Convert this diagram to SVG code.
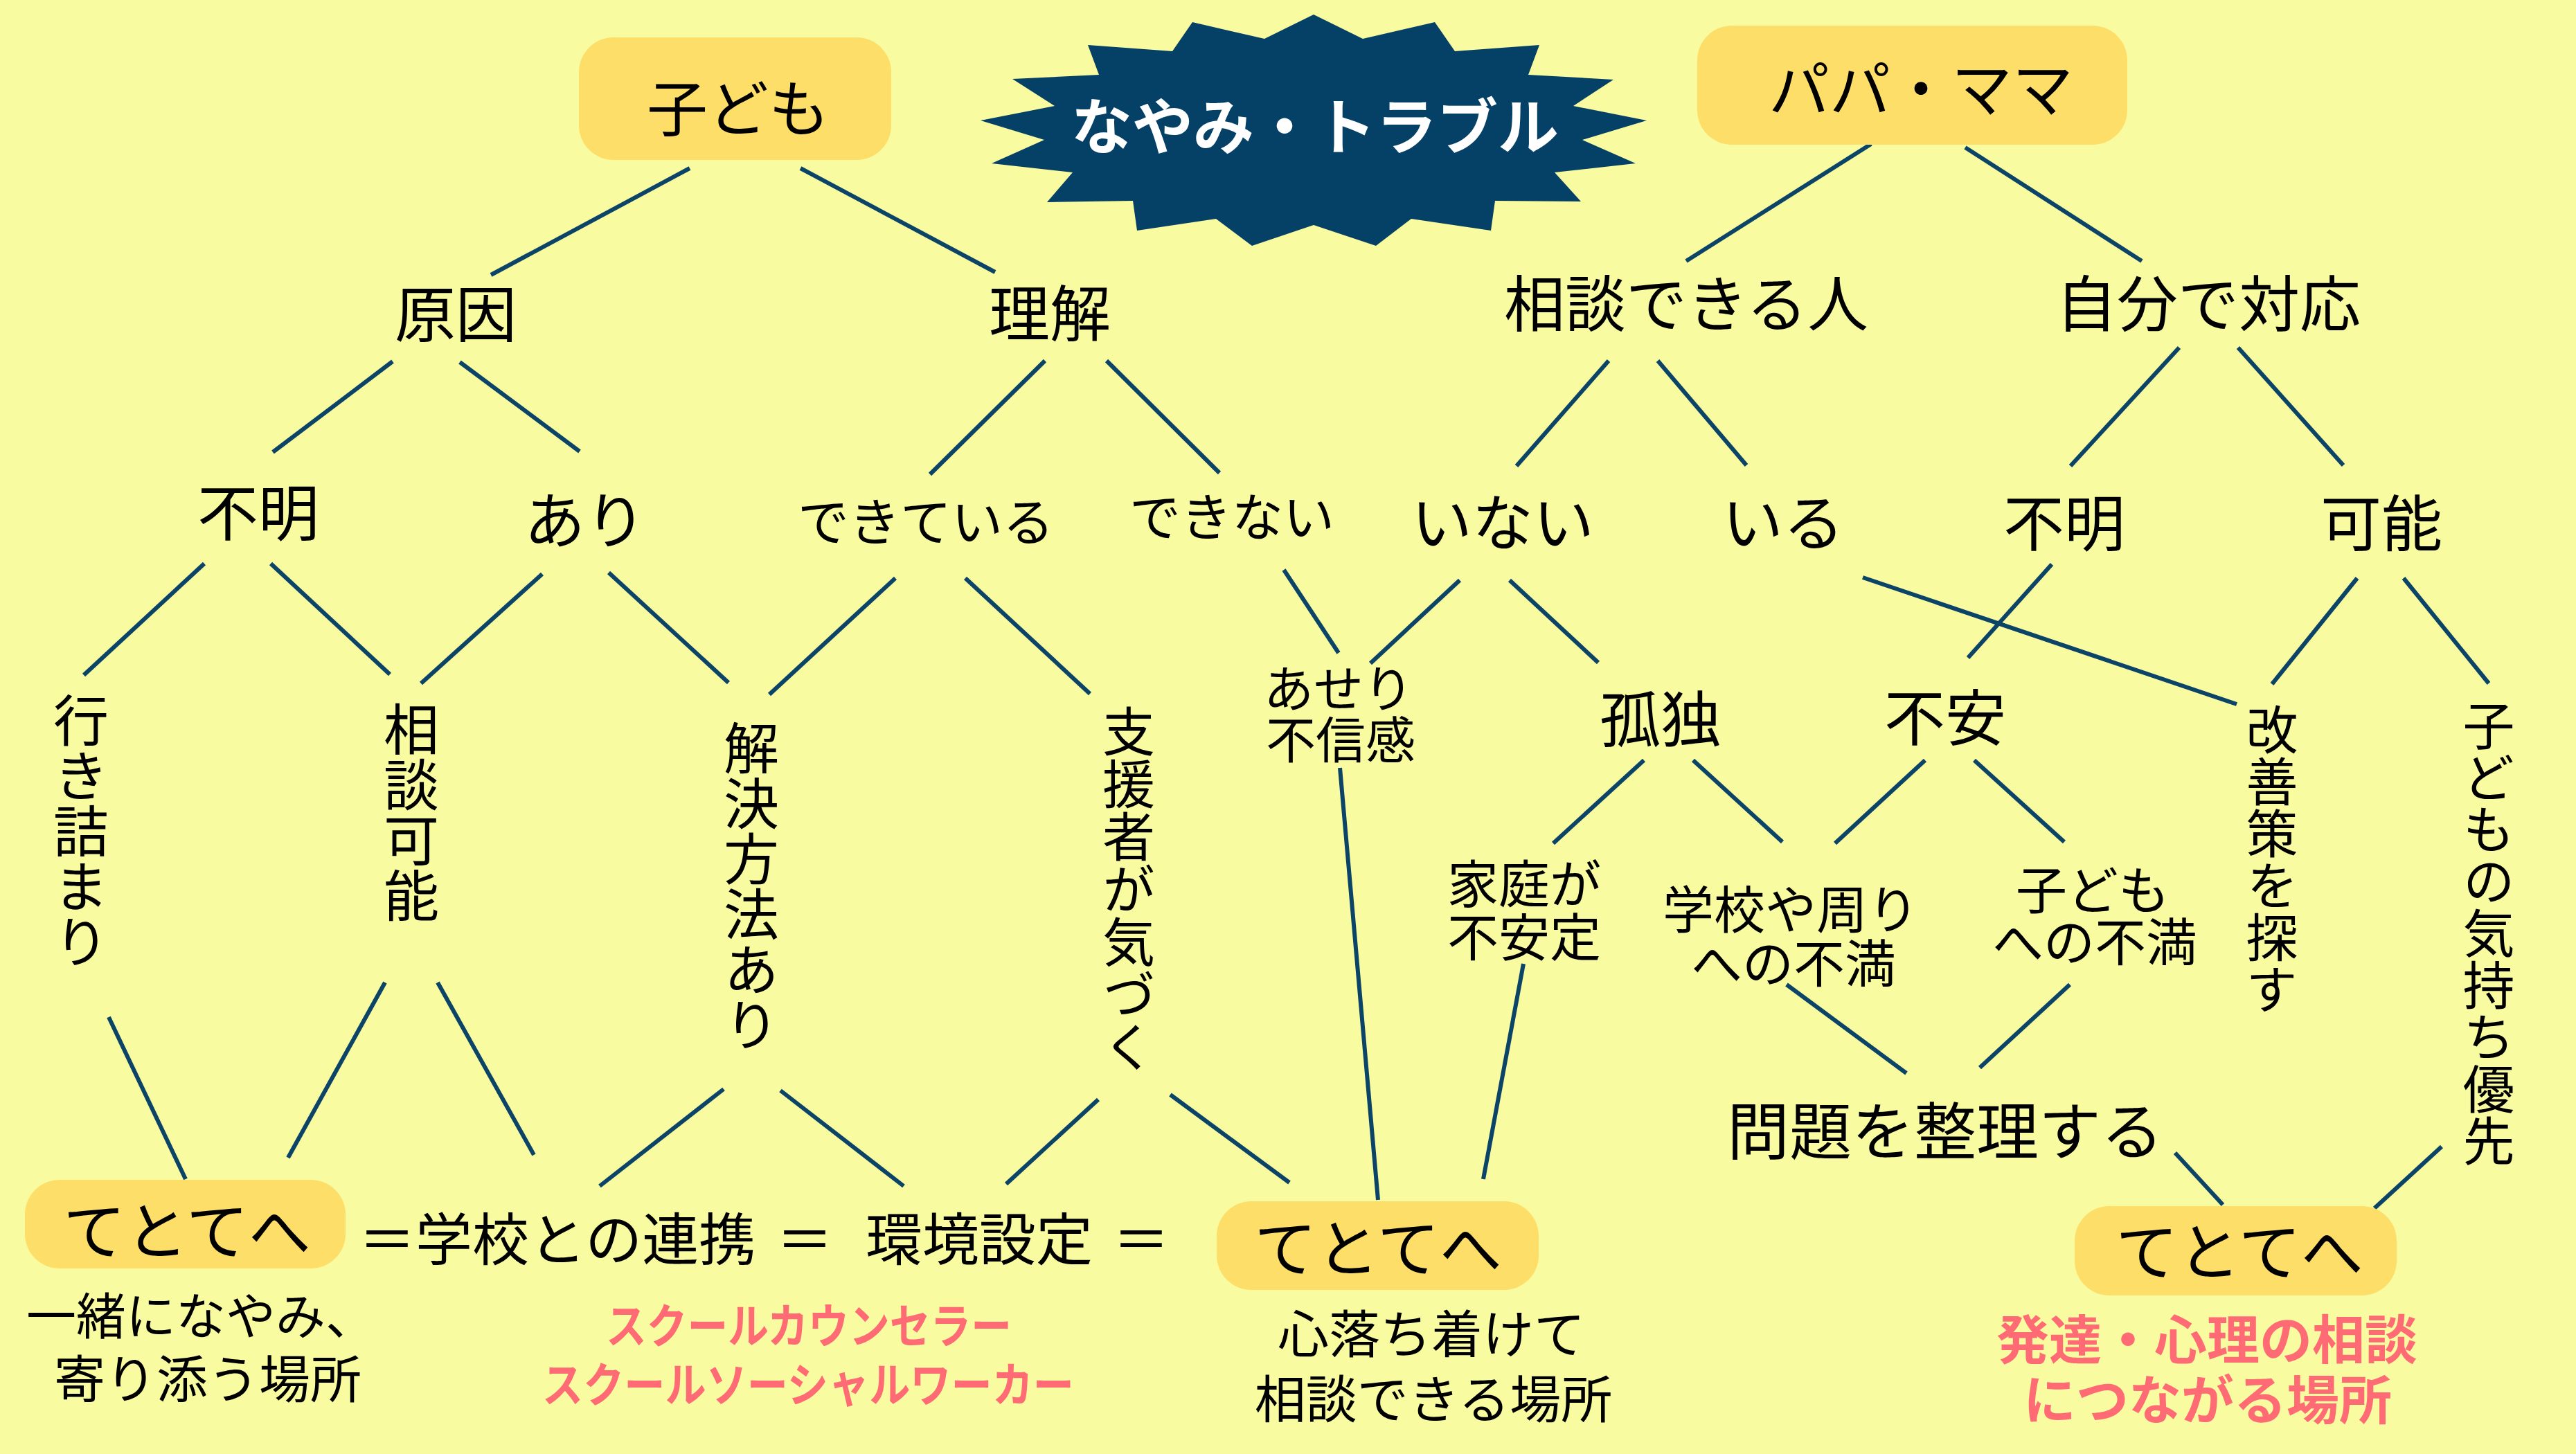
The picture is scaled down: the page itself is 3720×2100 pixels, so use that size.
<svg xmlns="http://www.w3.org/2000/svg" width="3720" height="2100" viewBox="0 0 3720 2100">
<style>
text{font-family:"Noto Sans CJK JP","Noto Sans CJK SC",sans-serif;fill:#000;dominant-baseline:central;text-anchor:middle}
.l{font-size:88px}
.m{font-size:74px}
.v{writing-mode:vertical-rl;text-anchor:start;dominant-baseline:auto}
.pk{fill:#FF6B74;font-weight:700}
.box{fill:#FDDE68}
.conn line{stroke:#0C4468;stroke-width:6;stroke-linecap:butt}
</style>
<rect width="3720" height="2100" fill="#F8FBA0"/>

<g id="connectors" class="conn">
<line x1="996" y1="243" x2="709" y2="397"/>
<line x1="1156" y1="243" x2="1437" y2="393"/>
<line x1="567" y1="522" x2="394" y2="653"/>
<line x1="664" y1="523" x2="837" y2="652"/>
<line x1="1509" y1="521" x2="1343" y2="685"/>
<line x1="1598" y1="521" x2="1761" y2="683"/>
<line x1="295" y1="814" x2="121" y2="975"/>
<line x1="391" y1="814" x2="563" y2="974"/>
<line x1="783" y1="829" x2="608" y2="987"/>
<line x1="879" y1="827" x2="1052" y2="986"/>
<line x1="1293" y1="835" x2="1111" y2="1003"/>
<line x1="1394" y1="835" x2="1574" y2="1002"/>
<line x1="1854" y1="823" x2="1933" y2="943"/>
<line x1="2108" y1="838" x2="1979" y2="958"/>
<line x1="2180" y1="838" x2="2308" y2="957"/>
<line x1="2702" y1="208" x2="2435" y2="377"/>
<line x1="2838" y1="213" x2="3093" y2="377"/>
<line x1="2323" y1="521" x2="2190" y2="673"/>
<line x1="2394" y1="521" x2="2522" y2="672"/>
<line x1="3147" y1="502" x2="2990" y2="673"/>
<line x1="3232" y1="502" x2="3384" y2="672"/>
<line x1="2963" y1="815" x2="2842" y2="950"/>
<line x1="2690" y1="834" x2="3230" y2="1017"/>
<line x1="3404" y1="835" x2="3281" y2="988"/>
<line x1="3471" y1="835" x2="3594" y2="987"/>
<line x1="157" y1="1469" x2="268" y2="1703"/>
<line x1="556" y1="1419" x2="416" y2="1672"/>
<line x1="632" y1="1419" x2="771" y2="1668"/>
<line x1="1045" y1="1573" x2="866" y2="1713"/>
<line x1="1127" y1="1575" x2="1305" y2="1713"/>
<line x1="1586" y1="1588" x2="1453" y2="1710"/>
<line x1="1690" y1="1581" x2="1862" y2="1708"/>
<line x1="1935" y1="1109" x2="1990" y2="1733"/>
<line x1="2200" y1="1392" x2="2142" y2="1703"/>
<line x1="2374" y1="1098" x2="2243" y2="1218"/>
<line x1="2445" y1="1098" x2="2574" y2="1216"/>
<line x1="2780" y1="1098" x2="2650" y2="1218"/>
<line x1="2851" y1="1098" x2="2981" y2="1216"/>
<line x1="2580" y1="1422" x2="2753" y2="1550"/>
<line x1="2989" y1="1422" x2="2859" y2="1542"/>
<line x1="3141" y1="1665" x2="3210" y2="1740"/>
<line x1="3526" y1="1656" x2="3429" y2="1745"/>
</g>

<g id="title">
<polygon fill="#054166" points="1897,21 1968,56 2072,32 2101,74 2223,65 2207,108 2330,115 2272,153 2378,174 2285,202 2362,236 2245,249 2283,291 2159,290 2153,333 2038,316 1987,355 1897,325 1808,355 1756,316 1642,333 1636,290 1512,292 1549,249 1432,236 1508,202 1416,174 1523,153 1462,114 1587,108 1571,65 1693,74 1722,32 1826,56"/>
<text x="1899" y="176" style="font-size:88px;font-weight:700;fill:#fff">なやみ・トラブル</text>
</g>

<g id="n-kodomo"><rect class="box" x="836" y="54" width="451" height="177" rx="50"/><text class="l" x="1066" y="150">子ども</text></g>
<g id="n-papamama"><rect class="box" x="2451" y="37" width="621" height="172" rx="50"/><text class="l" x="2774" y="122">パパ・ママ</text></g>

<g id="n-genin"><text class="l" x="658" y="447">原因</text></g>
<g id="n-rikai"><text class="l" x="1516" y="446">理解</text></g>
<g id="n-soudan"><text class="l" x="2435" y="432">相談できる人</text></g>
<g id="n-jibun"><text class="l" x="3189" y="432">自分で対応</text></g>

<g id="n-fumei1"><text class="l" x="373" y="734">不明</text></g>
<g id="n-ari"><text class="l" x="845" y="745">あり</text></g>
<g id="n-dekiteiru"><text class="m" x="1337" y="748">できている</text></g>
<g id="n-dekinai"><text class="m" x="1779" y="741">できない</text></g>
<g id="n-inai"><text class="l" x="2170" y="748">いない</text></g>
<g id="n-iru"><text class="l" x="2575" y="748">いる</text></g>
<g id="n-fumei2"><text class="l" x="2981" y="749">不明</text></g>
<g id="n-kanou"><text class="l" x="3439" y="749">可能</text></g>

<g id="n-ikizumari"><text class="v" x="117" y="1000" style="font-size:80px">行き詰まり</text></g>
<g id="n-soudankanou"><text class="v" x="594" y="1013" style="font-size:80px">相談可能</text></g>
<g id="n-kaiketsu"><text class="v" x="1085" y="1040" style="font-size:80px">解決方法あり</text></g>
<g id="n-shiensha"><text class="v" x="1630" y="1018" style="font-size:76px">支援者が気づく</text></g>
<g id="n-aseri"><text style="font-size:72px"><tspan x="1933" y="989">あせり</tspan><tspan x="1936" y="1063">不信感</tspan></text></g>
<g id="n-kodoku"><text class="l" x="2398" y="1032">孤独</text></g>
<g id="n-fuan"><text class="l" x="2809" y="1030">不安</text></g>
<g id="n-kaizen"><text class="v" x="3281" y="1016" style="font-size:75px">改善策を探す</text></g>
<g id="n-kimochi"><text class="v" x="3594" y="1010" style="font-size:75px">子どもの気持ち優先</text></g>

<g id="n-katei"><text class="m"><tspan x="2201" y="1271">家庭が</tspan><tspan x="2201" y="1348">不安定</tspan></text></g>
<g id="n-gakkou"><text class="m"><tspan x="2586" y="1308">学校や周り</tspan><tspan x="2590" y="1386">への不満</tspan></text></g>
<g id="n-kodomofuman"><text class="m"><tspan x="3022" y="1280">子ども</tspan><tspan x="3025" y="1355">への不満</tspan></text></g>
<g id="n-mondai"><text x="2809" y="1628" style="font-size:90px">問題を整理する</text></g>

<g id="n-tetote1"><rect class="box" x="36" y="1704" width="463" height="128" rx="50"/><text x="270" y="1772" style="font-size:90px">てとてへ</text></g>
<g id="n-renkei">
<text x="518" y="1784" style="font-size:82px;text-anchor:start">＝学校との連携</text>
<text x="1162" y="1784" style="font-size:82px">＝</text>
<text x="1250" y="1784" style="font-size:82px;text-anchor:start">環境設定</text>
<text x="1648" y="1784" style="font-size:82px">＝</text>
</g>
<g id="n-tetote2"><rect class="box" x="1757" y="1735" width="465" height="128" rx="50"/><text x="1990" y="1797" style="font-size:90px">てとてへ</text></g>
<g id="n-tetote3"><rect class="box" x="2996" y="1742" width="465" height="129" rx="50"/><text x="3234" y="1802" style="font-size:90px">てとてへ</text></g>

<g id="note1"><text style="font-size:72px"><tspan x="38" y="1895" style="text-anchor:start">一緒になやみ、</tspan><tspan x="300" y="1986" style="font-size:74px">寄り添う場所</tspan></text></g>
<g id="note2"><text class="pk" x="1168" y="1910" style="font-size:68px" textLength="586" lengthAdjust="spacingAndGlyphs">スクールカウンセラー</text><text class="pk" x="1167" y="1995" style="font-size:68px" textLength="768" lengthAdjust="spacingAndGlyphs">スクールソーシャルワーカー</text></g>
<g id="note3"><text class="m"><tspan x="2067" y="1921">心落ち着けて</tspan><tspan x="2070" y="2015">相談できる場所</tspan></text></g>
<g id="note4"><text class="pk" style="font-size:76px"><tspan x="3187" y="1930">発達・心理の相談</tspan><tspan x="3188" y="2017">につながる場所</tspan></text></g>
</svg>
